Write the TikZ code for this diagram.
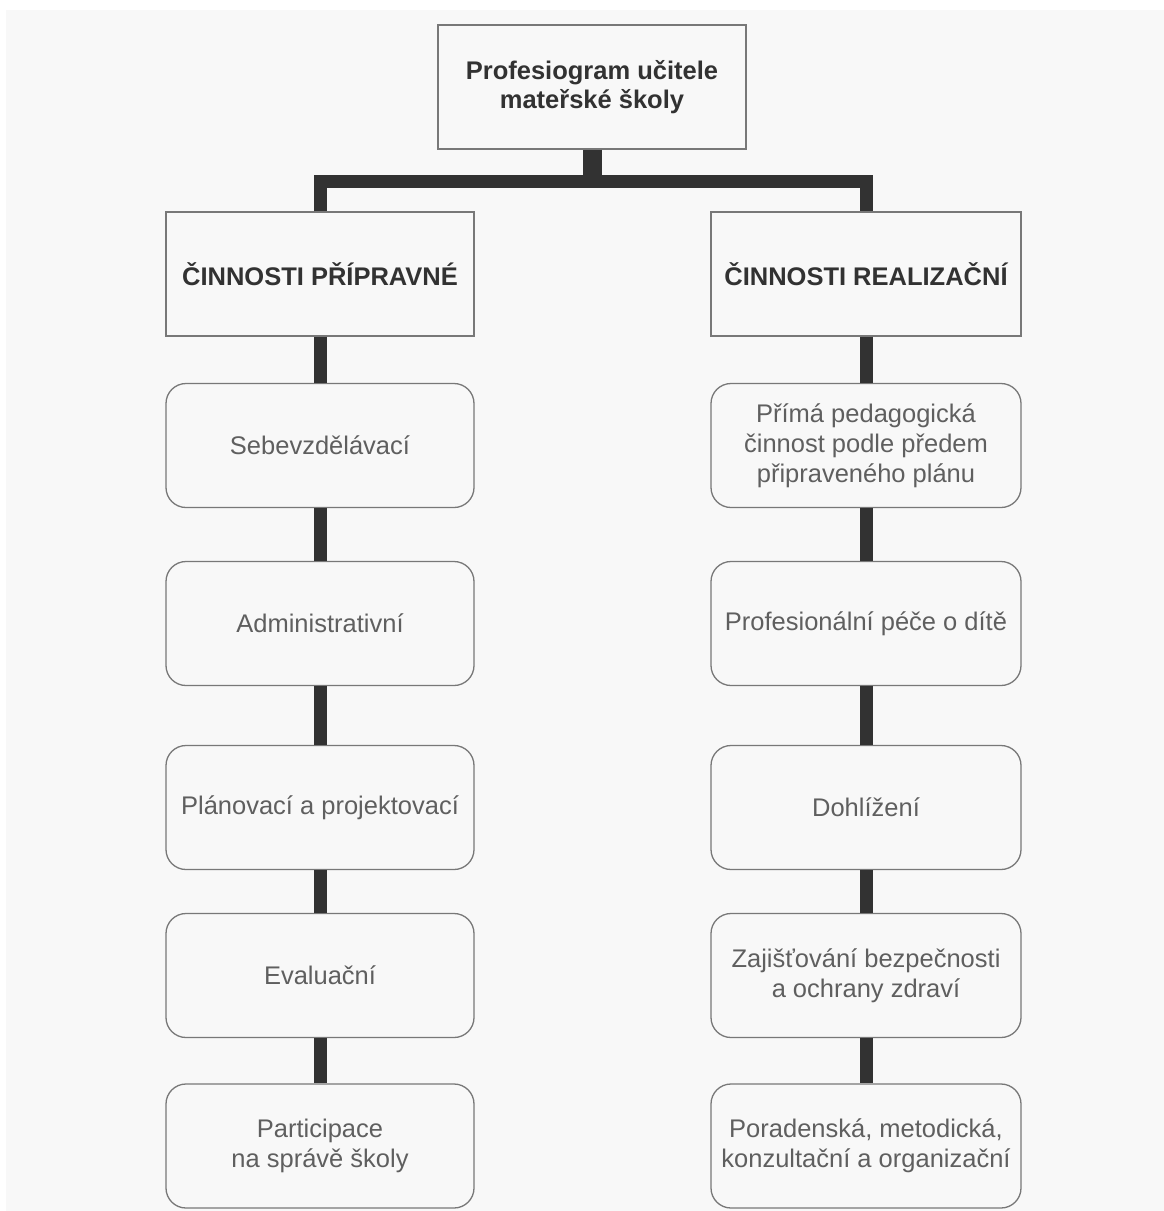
\documentclass[tikz,border=0pt]{standalone}
\usepackage{fontspec}
\setmainfont{Liberation Sans}
\usetikzlibrary{positioning,calc}
\definecolor{scanBg}{RGB}{248,248,248}
\definecolor{lineGray}{RGB}{120,120,120}
\definecolor{textGray}{RGB}{95,95,95}
\definecolor{inkDark}{RGB}{50,50,50}
\tikzset{
  headbox/.style={rectangle, draw=lineGray, fill=scanBg, line width=1.3pt, align=center,
                  minimum width=308pt, minimum height=124pt, inner sep=4pt,
                  font=\fontsize{25.5}{29}\selectfont\bfseries, text=inkDark},
  itembox/.style={headbox, rounded corners=20pt, font=\fontsize{25.5}{30}\selectfont, text=textGray},
  link/.style={draw=inkDark, line width=13pt, line cap=butt, line join=miter},
  stem/.style={link, line width=19pt}
}

\begin{document}
\begin{tikzpicture}[x=1pt, y=-1pt]
% scanned page
\fill[white] (0,0) rectangle (1164,1211);
\fill[scanBg] (6,10) rectangle (1164,1211);
\useasboundingbox (0,0) rectangle (1164,1211);

\node[headbox] (top) at (592,87) {Profesiogram učitele\\mateřské školy};
\node[headbox] (prep) at (320,274) {ČINNOSTI PŘÍPRAVNÉ};
\node[headbox, minimum width=310pt] (real) at (866,274) {ČINNOSTI REALIZAČNÍ};

% left column
\foreach \n/\y/\t in {1/445.5/{Sebevzdělávací},
                      2/623.5/{Administrativní},
                      3/807.5/{Plánovací a projektovací},
                      4/975.5/{Evaluační},
                      5/1146/{Participace\\na správě školy}}
  \node[itembox] (p\n) at (320,\y) {\t};
% right column
\foreach \n/\y/\t in {1/445.5/{Přímá pedagogická\\činnost podle předem\\připraveného plánu},
                      2/623.5/{Profesionální péče o dítě},
                      3/807.5/{Dohlížení},
                      4/975.5/{Zajišťování bezpečnosti\\a ochrany zdraví},
                      5/1146/{Poradenská, metodická,\\konzultační a organizační}}
  \node[itembox, minimum width=310pt] (r\n) at (866,\y) {\t};

% tree
\coordinate (bar) at (592,181);
\draw[stem] (top.south) -- ([yshift=-6.5pt]bar);
\draw[link] (prep.north) -- (prep.north |- bar) -- (real.north |- bar) -- (real.north);
\draw[link] (prep.south) -- (p1.north);
\draw[link] (real.south) -- (r1.north);
\foreach \a/\b in {1/2,2/3,3/4,4/5} {
  \draw[link] (p\a.south) -- (p\b.north);
  \draw[link] (r\a.south) -- (r\b.north);
}
\end{tikzpicture}
\end{document}
